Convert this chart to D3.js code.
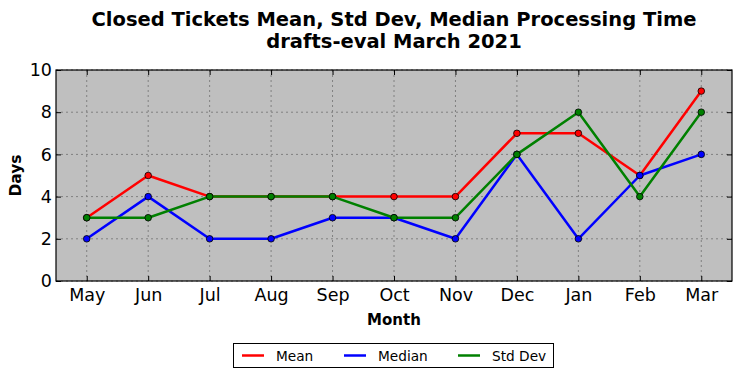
<!DOCTYPE html>
<html><head><meta charset="utf-8">
<script src="https://cdn.jsdelivr.net/npm/d3@7"></script>
<style>body{margin:0;background:#fff;}svg{display:block;font-family:"DejaVu Sans",sans-serif;}</style>
</head><body>
<svg id="c" width="741" height="378"></svg>
<script>
const months = ["May","Jun","Jul","Aug","Sep","Oct","Nov","Dec","Jan","Feb","Mar"];
const meanVals = [3,5,4,4,4,4,4,7,7,5,9];
const medianVals = [2,4,2,2,3,3,2,6,2,5,6];
const stdVals = [3,3,4,4,4,3,3,6,8,4,8];
const yTicks = [0,2,4,6,8,10];
const seriesNames = ["Mean","Median","Std Dev"];
const seriesColors = ["#ff0000","#0000ff","#008000"];
const seriesData = [meanVals, medianVals, stdVals];

const svg = d3.select("#c");
const L=56,R=732,T=70,B=281;
const x = d3.scaleLinear().domain([-0.5, months.length-0.5]).range([L,R]);
const y = d3.scaleLinear().domain([0,10]).range([B,T]);

svg.append("rect").attr("x",L).attr("y",T).attr("width",R-L).attr("height",B-T).attr("fill","#bfbfbf");

// grid
const g = svg.append("g");
months.forEach((m,i)=>{
  g.append("line").attr("x1",x(i)).attr("x2",x(i)).attr("y1",T).attr("y2",B)
   .attr("stroke","#808080").attr("stroke-width",1).attr("stroke-dasharray","2,3");
});
yTicks.forEach(t=>{
  g.append("line").attr("x1",L).attr("x2",R).attr("y1",y(t)).attr("y2",y(t))
   .attr("stroke","#808080").attr("stroke-width",1).attr("stroke-dasharray","2,3");
});

// axes (ticks inside)
const xAxis = d3.axisBottom(x).tickValues(d3.range(months.length)).tickFormat(i=>months[i]).tickSizeInner(-5).tickSizeOuter(0).tickPadding(8);
svg.append("g").attr("transform",`translate(0,${B})`).call(xAxis);
const xTop = d3.axisTop(x).tickValues(d3.range(months.length)).tickFormat("").tickSizeInner(-5).tickSizeOuter(0);
svg.append("g").attr("transform",`translate(0,${T})`).call(xTop);
const yAxis = d3.axisLeft(y).tickValues(yTicks).tickSizeInner(-5).tickSizeOuter(0).tickPadding(4);
svg.append("g").attr("transform",`translate(${L},0)`).call(yAxis);
const yRight = d3.axisRight(y).tickValues(yTicks).tickFormat("").tickSizeInner(-5).tickSizeOuter(0);
svg.append("g").attr("transform",`translate(${R},0)`).call(yRight);
svg.selectAll(".domain").remove();
svg.selectAll(".tick line").attr("stroke","#000");
svg.selectAll(".tick text").attr("font-size",17.5).attr("font-family","DejaVu Sans").attr("fill","#000");

// lines
const line = d3.line().x((d,i)=>x(i)).y(d=>y(d));
seriesData.forEach((vals,k)=>{
  svg.append("path").datum(vals).attr("d",line).attr("fill","none")
    .attr("stroke",seriesColors[k]).attr("stroke-width",2.5).attr("stroke-linejoin","round");
  svg.append("g").selectAll("circle").data(vals).join("circle")
    .attr("cx",(d,i)=>x(i)).attr("cy",d=>y(d)).attr("r",3.3)
    .attr("fill",seriesColors[k]).attr("stroke","#000").attr("stroke-width",0.8);
});

// frame
svg.append("rect").attr("x",L).attr("y",T).attr("width",R-L).attr("height",B-T)
  .attr("fill","none").attr("stroke","#000").attr("stroke-width",1.2);

// titles
svg.append("text").attr("x",394).attr("y",25.5).attr("text-anchor","middle")
  .attr("font-size",19.5).attr("font-weight","bold").text("Closed Tickets Mean, Std Dev, Median Processing Time");
svg.append("text").attr("x",394).attr("y",47.5).attr("text-anchor","middle")
  .attr("font-size",19.5).attr("font-weight","bold").text("drafts-eval March 2021");
svg.append("text").attr("x",394).attr("y",325).attr("text-anchor","middle")
  .attr("font-size",15).attr("font-weight","bold").text("Month");
svg.append("text").attr("transform",`translate(21,${(T+B)/2}) rotate(-90)`).attr("text-anchor","middle")
  .attr("font-size",15.5).attr("font-weight","bold").text("Days");

// legend
const lg = svg.append("g");
lg.append("rect").attr("x",233.5).attr("y",343.5).attr("width",320).attr("height",24)
  .attr("fill","#fff").attr("stroke","#000").attr("stroke-width",1);
const legX = [242, 344, 458];
seriesNames.forEach((n,k)=>{
  lg.append("line").attr("x1",legX[k]).attr("x2",legX[k]+22).attr("y1",355.5).attr("y2",355.5)
    .attr("stroke",seriesColors[k]).attr("stroke-width",2.5);
  lg.append("text").attr("x",legX[k]+34).attr("y",360.5).attr("font-size",13.7).text(n);
});
</script>
</body></html>
